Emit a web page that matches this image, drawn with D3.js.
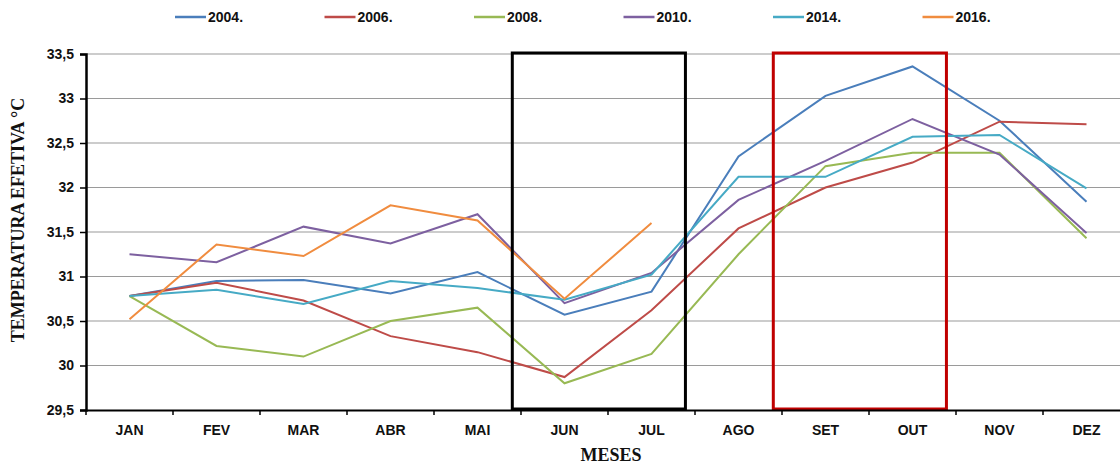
<!DOCTYPE html>
<html>
<head>
<meta charset="utf-8">
<script src="https://cdn.jsdelivr.net/npm/d3@7"></script>
<style>
  body { margin: 0; background: #fff; }
  .tick text { font-family: "Liberation Sans", Arial, sans-serif; font-weight: bold; font-size: 14px; fill: #111; }
  .axisText { font-family: "Liberation Serif", "Times New Roman", serif; font-weight: bold; font-size: 18px; fill: #111; }
</style>
</head>
<body>
<div id="chart"></div>
<script>
// Data
var months = ["JAN", "FEV", "MAR", "ABR", "MAI", "JUN", "JUL", "AGO", "SET", "OUT", "NOV", "DEZ"];
var years = ["2004.", "2006.", "2008.", "2010.", "2014.", "2016."];
var colors = ["#4A7EBB", "#BE4B48", "#98B954", "#7D60A0", "#46AAC5", "#F08C3F"];

var t2004 = [30.78, 30.95, 30.96, 30.81, 31.05, 30.57, 30.83, 32.35, 33.03, 33.36, 32.75, 31.84];
var t2006 = [30.78, 30.93, 30.73, 30.33, 30.15, 29.87, 30.62, 31.54, 32.00, 32.28, 32.74, 32.71];
var t2008 = [30.78, 30.22, 30.10, 30.50, 30.65, 29.80, 30.13, 31.25, 32.24, 32.39, 32.39, 31.43];
var t2010 = [31.25, 31.16, 31.56, 31.37, 31.70, 30.70, 31.04, 31.86, 32.30, 32.77, 32.37, 31.49];
var t2014 = [30.78, 30.85, 30.69, 30.95, 30.87, 30.74, 31.02, 32.12, 32.12, 32.57, 32.59, 31.99];
var t2016 = [30.52, 31.36, 31.23, 31.80, 31.63, 30.75, 31.60];

var series = [t2004, t2006, t2008, t2010, t2014, t2016];
var yTicks = [29.5, 30, 30.5, 31, 31.5, 32, 32.5, 33, 33.5];

// Set Up Space
var svgWidth = 1120;
var svgHeight = 466;
var margin = { top: 54, left: 86, bottom: 56 };
var plotWidth = 1044;
var height = svgHeight - margin.top - margin.bottom;

var svg = d3.select("#chart")
  .append("svg")
  .attr("width", svgWidth)
  .attr("height", svgHeight);

var chartGroup = svg.append("g")
  .attr("transform", `translate(${margin.left}, ${margin.top})`);

// Scales
var xBand = d3.scaleBand().domain(months).range([0, plotWidth]);
var xScale = d => xBand(d) + xBand.bandwidth() / 2;
var yScale = d3.scaleLinear().domain([29.5, 33.5]).range([height, 0]);

// Gridlines
chartGroup.selectAll(".grid")
  .data(yTicks.slice(1))
  .enter()
  .append("line")
    .attr("x1", 0)
    .attr("x2", plotWidth)
    .attr("y1", d => yScale(d))
    .attr("y2", d => yScale(d))
    .attr("stroke", "#9a9a9a")
    .attr("stroke-width", 1.2);

// Lines
var line = d3.line()
  .x((d, i) => xScale(months[i]))
  .y(d => yScale(d));

series.forEach(function(s, i) {
  chartGroup.append("path")
    .datum(s)
    .attr("d", line)
    .attr("fill", "none")
    .attr("stroke", colors[i])
    .attr("stroke-width", 2);
});

// Highlight boxes
var bw = xBand.bandwidth();
function box(from, to, color) {
  chartGroup.append("rect")
    .attr("x", xScale(from) - 0.6 * bw)
    .attr("y", yScale(33.5) - 1)
    .attr("width", xScale(to) + 0.39 * bw - (xScale(from) - 0.6 * bw))
    .attr("height", yScale(29.5) - yScale(33.5))
    .attr("fill", "none")
    .attr("stroke", color)
    .attr("stroke-width", 3);
}
box("JUN", "JUL", "#000");
box("SET", "OUT", "#C00000");

// Axes
var bottomAxis = d3.axisBottom(xBand).tickSize(0).tickPadding(15);
var leftAxis = d3.axisLeft(yScale)
  .tickValues(yTicks)
  .tickSize(6)
  .tickPadding(6)
  .tickFormat(d => String(d).replace(".", ","));

var xg = chartGroup.append("g")
  .attr("transform", `translate(0, ${height})`)
  .call(bottomAxis);
xg.select(".domain").attr("stroke", "#000").attr("stroke-width", 2);

xg.selectAll(".sep")
  .data(months)
  .enter()
  .append("line")
    .attr("x1", d => xBand(d))
    .attr("x2", d => xBand(d))
    .attr("y1", 0)
    .attr("y2", 5)
    .attr("stroke", "#000")
    .attr("stroke-width", 1.5);

var yg = chartGroup.append("g").call(leftAxis);
yg.select(".domain").attr("stroke", "#000").attr("stroke-width", 2.5);
yg.selectAll(".tick line").attr("stroke", "#000").attr("stroke-width", 1.5);

// Labels
svg.append("text")
  .attr("transform", `translate(24, 220) rotate(-90)`)
  .attr("text-anchor", "middle")
  .attr("class", "axisText")
  .text("TEMPERATURA EFETIVA °C");

svg.append("text")
  .attr("x", 611)
  .attr("y", 461)
  .attr("text-anchor", "middle")
  .attr("class", "axisText")
  .text("MESES");

// Legend
var legend = svg.append("g").attr("transform", "translate(175, 17)");
years.forEach(function(y, i) {
  var g = legend.append("g").attr("transform", `translate(${i * 149.5}, 0)`);
  g.append("line")
    .attr("x1", 0).attr("x2", 31)
    .attr("y1", 0).attr("y2", 0)
    .attr("stroke", colors[i])
    .attr("stroke-width", 2.5);
  g.append("text")
    .attr("x", 33)
    .attr("y", 5)
    .style("font-family", "'Liberation Sans', Arial, sans-serif")
    .style("font-weight", "bold")
    .style("font-size", "14px")
    .attr("fill", "#111")
    .text(y);
});
</script>
</body>
</html>
